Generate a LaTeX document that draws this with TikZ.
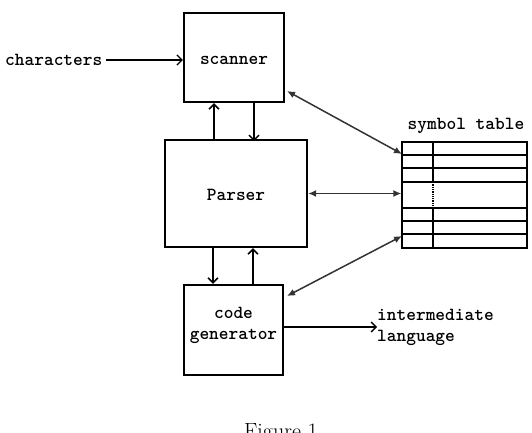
\documentclass[tikz,border=0pt]{standalone}
\usetikzlibrary{arrows.meta}
\begin{document}
\begin{tikzpicture}[x=1pt,y=-1pt,
  labeltext/.style={font=\fontsize{18.5}{21}\selectfont\ttfamily\bfseries, inner sep=0pt},
  block/.style={draw, line width=2.3pt, inner sep=0pt},
  flow/.style={line width=1.9pt, -{Straight Barb[length=5pt,width=10pt,line width=1.5pt]}},
  feed/.style={line width=1.4pt, -{Straight Barb[length=5pt,width=10pt,line width=1.3pt]}},
  lookup/.style={line width=1.5pt, draw=black!80, {Latex[length=8pt,width=7pt]}-{Latex[length=8pt,width=7pt]}},
  rule/.style={line width=1.3pt}]
\useasboundingbox (0,0) rectangle (532,433);

% processing stages
\node[block, minimum width=100pt, minimum height=89pt] (scanner) at (234,57.5) {};
\node[labeltext] (scannerlbl) at (234,60) {scanner};
\node[block, minimum width=142pt, minimum height=107pt] (parser) at (236,193.5) {};
\node[labeltext] (parserlbl) at (236,195) {Parser};
\node[block, minimum width=99pt, minimum height=90pt] (codegen) at (233.5,330) {};
\node[labeltext, align=center] (codegenlbl) at (233.5,325) {code\\[0pt]generator};

% symbol table grid
\node[draw, rule, minimum width=125pt, minimum height=106pt, inner sep=0pt] (table) at (464.5,195) {};
\coordinate (colT) at (433,142);
\coordinate (colB) at (433,248);
\draw[rule] (colT) -- (433,182);
\draw[rule, densely dotted] (433,182) -- (433,208);
\draw[rule] (433,208) -- (colB);
\foreach \yy in {155,168,182,208,221,234}
  \draw[rule] (402,\yy) -- (527,\yy);
\node[labeltext] (tablelbl) at (466,126) {symbol table};

% inputs and outputs
\node[labeltext, anchor=west] (chars) at (5,60) {characters};
\coordinate (charsend) at (106,60);
\draw[feed] (charsend) -- (scanner.west |- charsend);
\node[labeltext, anchor=west, align=left] (ilang) at (377,327) {intermediate\\[0pt]language};
\coordinate (cgout) at (codegen.east |- 0,327);
\draw[feed] (cgout) -- (ilang.west |- cgout);

% control flow between stages
\draw[flow] (scanner.south -| 214,0) ++(0,38) -- ++(0,-38);
\draw[flow] (scanner.south -| 254,0) -- ++(0,38);
\draw[flow] (parser.south -| 213,0) -- (codegen.north -| 213,0);
\draw[flow] (codegen.north -| 253,0) -- (parser.south -| 253,0);

% symbol table lookups
\draw[lookup] (287,91) -- (402,154);
\draw[lookup] (parser.east) -- (table.west |- parser.east);
\draw[lookup] (287,296) -- (402,236);

% caption
\node[font=\fontsize{22}{26}\selectfont, anchor=north] (caption) at (281,420) {Figure 1};
\end{tikzpicture}
\end{document}
